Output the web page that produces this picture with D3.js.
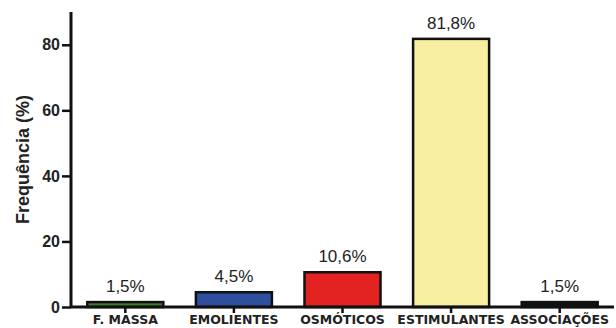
<!DOCTYPE html>
<html><head><meta charset="utf-8">
<script src="https://cdn.jsdelivr.net/npm/d3@7"></script>
<style>body{margin:0;background:#fff}svg{display:block}</style>
</head><body>
<script>
const categories = ["F. MASSA","EMOLIENTES","OSMÓTICOS","ESTIMULANTES","ASSOCIAÇÕES"];
const values = [1.5, 4.5, 10.6, 81.8, 1.5];
const labels = ["1,5%","4,5%","10,6%","81,8%","1,5%"];
const colors = ["#3f7d2c","#2f4f9e","#e32222","#f8f0a0","#111111"];
const yTicks = [0,20,40,60,80];

(function(){
const W=616,H=328, mLeft=71, mRight=614, mTop=12, mBottom=307;
const svg=d3.select("body").append("svg").attr("width",W).attr("height",H);
const x=d3.scaleBand().domain(categories).range([mLeft,mRight]).paddingInner(0.3).paddingOuter(0.15);
const y=d3.scaleLinear().domain([0,90]).range([mBottom,mTop]);

svg.selectAll("rect.bar").data(categories).enter().append("rect")
  .attr("x",d=>x(d)).attr("width",x.bandwidth())
  .attr("y",(d,i)=>y(values[i])).attr("height",(d,i)=>y(0)-y(values[i]))
  .attr("fill",(d,i)=>colors[i]).attr("stroke","#111").attr("stroke-width",2.5);

svg.selectAll("text.val").data(categories).enter().append("text")
  .attr("x",d=>x(d)+x.bandwidth()/2).attr("y",(d,i)=>y(values[i])-10)
  .attr("text-anchor","middle").attr("font-family","Liberation Sans, Arial, sans-serif")
  .attr("font-size",17).attr("fill","#222").text((d,i)=>labels[i]);

const yAxis=svg.append("g").attr("transform",`translate(${mLeft},0)`)
  .call(d3.axisLeft(y).tickValues(yTicks).tickSize(9).tickPadding(2));
yAxis.select(".domain").attr("stroke","#111").attr("stroke-width",3).attr("d",`M0,${mTop}V${mBottom}`);
yAxis.selectAll(".tick line").attr("stroke","#111").attr("stroke-width",2.5);
yAxis.selectAll(".tick text").attr("font-family","Liberation Sans, Arial, sans-serif").attr("font-weight","bold").attr("font-size",16).attr("fill","#222");

const xAxis=svg.append("g").attr("transform",`translate(0,${mBottom})`)
  .call(d3.axisBottom(x).tickSize(6).tickPadding(2));
xAxis.select(".domain").attr("stroke","#111").attr("stroke-width",3).attr("d",`M${mLeft},0H${mRight}`);
xAxis.selectAll(".tick line").attr("stroke","#111").attr("stroke-width",2.5);
xAxis.selectAll(".tick text").attr("font-family","DejaVu Sans, sans-serif").attr("font-weight","bold").attr("font-size",12.5).attr("fill","#222");

svg.append("text").attr("transform",`translate(29,${(mTop+mBottom)/2}) rotate(-90)`)
  .attr("text-anchor","middle").attr("font-family","Liberation Sans, Arial, sans-serif")
  .attr("font-weight","bold").attr("font-size",18).attr("fill","#222").text("Frequência (%)");
})();
</script>
</body></html>
